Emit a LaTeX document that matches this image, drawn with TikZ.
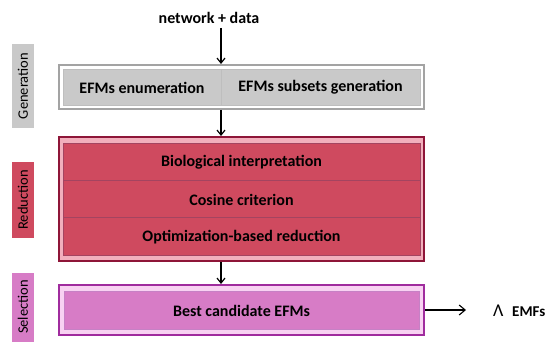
\documentclass[tikz,border=0pt]{standalone}
\usepackage{fontspec}
\setmainfont{Carlito}
\usetikzlibrary{arrows.meta}
\definecolor{gfill}{HTML}{C9C9C9}
\definecolor{gbord}{HTML}{A3A3A3}
\definecolor{rfill}{HTML}{CF4A5F}
\definecolor{rbord}{HTML}{8E1538}
\definecolor{rband}{HTML}{F2AFBC}
\definecolor{sfill}{HTML}{D77CC6}
\definecolor{sbord}{HTML}{A02C9E}
\definecolor{sband}{HTML}{F8D2F2}
\tikzset{
  x=1pt, y=-1pt,
  txt/.style={font=\bfseries\fontsize{16}{19}\selectfont, text=black},
  side/.style={font=\fontsize{14.5}{17}\selectfont, text=black, rotate=90, inner sep=0pt},
  arr/.style={-{Straight Barb[length=5pt,width=8pt]}, line width=1.2pt, black},
}
\begin{document}
\begin{tikzpicture}
\useasboundingbox (0,0) rectangle (549,342);
% side labels
\fill[gfill] (12,44) rectangle (34,128);
\node[side] (lg) at (23,86) {Generation};
\fill[rfill] (12,162) rectangle (34,238);
\node[side] (lr) at (23,200) {Reduction};
\fill[sfill] (12,273) rectangle (34,342);
\node[side] (ls) at (23,307) {Selection};
% generation box
\draw[gbord, line width=2.5pt, fill=white] (59,65) rectangle (424,109);
\draw[gbord!70, line width=0.6pt, fill=gfill] (63,69) rectangle (420,105);
\draw[gbord!70, line width=0.6pt] (221,69) -- (221,105);
\node[txt] (g1) at (142,87.5) {EFMs enumeration};
\node[txt] (g2) at (320.5,87.5) {EFMs subsets generation};
\coordinate (gtop) at (221,64);
\coordinate (gbot) at (221,110);
% reduction box
\draw[rbord, line width=2.5pt, fill=rband] (59,137) rectangle (424,261);
\draw[rbord!80, line width=0.6pt, fill=rfill] (63,143) rectangle (420,255);
\draw[rbord!80, line width=0.6pt] (63,180.5) -- (420,180.5);
\draw[rbord!80, line width=0.6pt] (63,217.5) -- (420,217.5);
\node[txt] (r1) at (241.5,162) {Biological interpretation};
\node[txt] (r2) at (241.5,199.5) {Cosine criterion};
\node[txt] (r3) at (241.5,237) {Optimization-based reduction};
\coordinate (rtop) at (221,136);
\coordinate (rbot) at (221,262);
% selection box
\draw[sbord, line width=2.5pt, fill=sband] (59,285) rectangle (424,335);
\draw[sbord!60, line width=0.6pt, fill=sfill] (64,291) rectangle (419,329);
\node[txt] (s1) at (241.5,310.5) {Best candidate EFMs};
\coordinate (stop) at (221,284);
\coordinate (sright) at (425,310);
% top text
\node[txt] (nd) at (209,17.5) {network + data};
% arrows
\draw[arr] (221,28) -- (gtop);
\draw[arr] (gbot) -- (rtop);
\draw[arr] (rbot) -- (stop);
\draw[line width=1.1pt, -{Straight Barb[length=6pt,width=10pt]}] (sright) -- (466,310) coordinate (aend);
\node[font=\fontsize{18}{21}\selectfont, anchor=west, inner sep=0pt] (lam) at (493,311) {Λ};
\node[txt, anchor=west, font=\bfseries\fontsize{15}{18}\selectfont, inner sep=0pt] (emf) at (512,311.5) {EMFs};
\end{tikzpicture}
\end{document}
